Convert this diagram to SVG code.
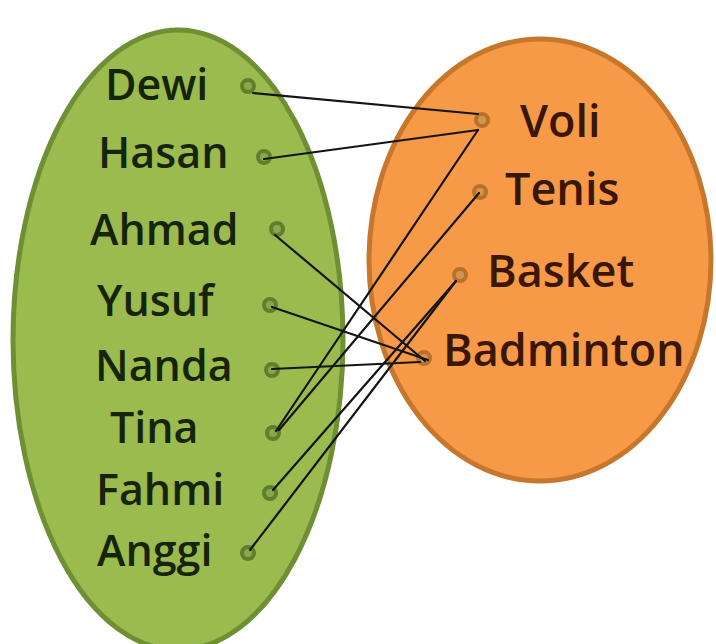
<svg xmlns="http://www.w3.org/2000/svg" width="716" height="644" viewBox="0 0 716 644">
<style>
.lbl{font-family:"Open Sans","Noto Sans","Liberation Sans",sans-serif;font-weight:600;font-size:43px}
.lg{fill:#16240a}
.lo{fill:#3a1606;font-size:45px}
.dg{fill:#8aa84a;stroke:#5f7f2c;stroke-width:4}
.do{fill:#d39650;stroke:#b8702a;stroke-width:4}
.ln{stroke:#141414;stroke-width:2.2;fill:none;stroke-linecap:round}
</style>
<rect width="716" height="644" fill="#ffffff"/>
<g id="set-a">
<ellipse cx="178" cy="340" rx="165" ry="310" fill="#9bbb4f" stroke="#6e8f34" stroke-width="5"/>
</g>
<g id="set-b">
<ellipse cx="540" cy="260" rx="171" ry="221" fill="#f79a48" stroke="#c6772c" stroke-width="5"/>
</g>
<g id="dewi"><circle class="dg" cx="248" cy="86" r="6"/><text class="lbl lg" x="105" y="100">Dewi</text></g>
<g id="hasan"><circle class="dg" cx="264" cy="157" r="6"/><text class="lbl lg" x="98" y="168">Hasan</text></g>
<g id="ahmad"><circle class="dg" cx="277" cy="229" r="6"/><text class="lbl lg" x="90" y="245">Ahmad</text></g>
<g id="yusuf"><circle class="dg" cx="270" cy="305" r="6"/><text class="lbl lg" x="97" y="316">Yusuf</text></g>
<g id="nanda"><circle class="dg" cx="272" cy="370" r="6"/><text class="lbl lg" x="95" y="381">Nanda</text></g>
<g id="tina"><circle class="dg" cx="273" cy="433" r="6"/><text class="lbl lg" x="110" y="443">Tina</text></g>
<g id="fahmi"><circle class="dg" cx="270" cy="493" r="6"/><text class="lbl lg" x="96" y="505">Fahmi</text></g>
<g id="anggi"><circle class="dg" cx="248" cy="553" r="6"/><text class="lbl lg" x="97" y="566">Anggi</text></g>
<g id="voli"><circle class="do" cx="482" cy="120" r="6"/><text class="lbl lo" x="520" y="137">Voli</text></g>
<g id="tenis"><circle class="do" cx="480" cy="192" r="6"/><text class="lbl lo" x="505" y="205">Tenis</text></g>
<g id="basket"><circle class="do" cx="460" cy="275" r="6"/><text class="lbl lo" x="487" y="287">Basket</text></g>
<g id="badminton"><circle class="do" cx="424" cy="358" r="6"/><text class="lbl lo" x="443" y="366">Badminton</text></g>
<g id="connectors">
<line class="ln" x1="253" y1="93" x2="478" y2="114"/>
<line class="ln" x1="264" y1="159" x2="478" y2="130"/>
<line class="ln" x1="275" y1="235" x2="425" y2="361"/>
<line class="ln" x1="272" y1="307" x2="428" y2="360"/>
<line class="ln" x1="272" y1="369" x2="420" y2="362"/>
<line class="ln" x1="276" y1="431" x2="478" y2="130"/>
<line class="ln" x1="279" y1="430" x2="479" y2="193"/>
<line class="ln" x1="273" y1="490" x2="456" y2="281"/>
<line class="ln" x1="250" y1="550" x2="456" y2="281"/>
</g>
</svg>
